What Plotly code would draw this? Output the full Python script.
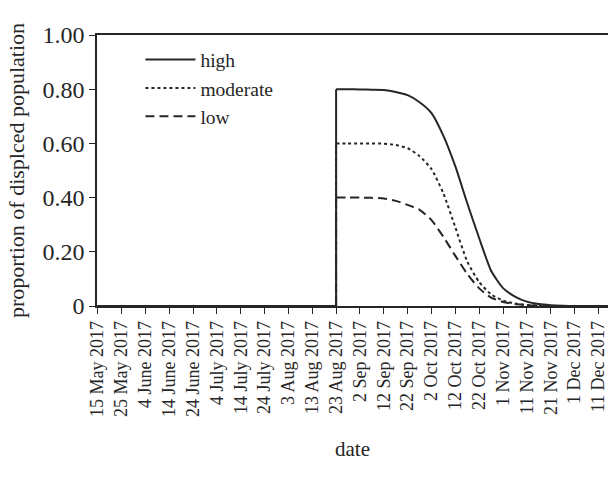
import plotly.graph_objects as go

# Shared dates (the step at 23 Aug is given by a repeated date)
dates = ["2017-05-15", "2017-08-23", "2017-08-23", "2017-08-28", "2017-09-02",
         "2017-09-07", "2017-09-12", "2017-09-17", "2017-09-22", "2017-09-27",
         "2017-10-02", "2017-10-07", "2017-10-12", "2017-10-17", "2017-10-22",
         "2017-10-27", "2017-11-01", "2017-11-06", "2017-11-11", "2017-11-16",
         "2017-11-21", "2017-11-26", "2017-12-01", "2017-12-06", "2017-12-11",
         "2017-12-15"]

high = [0, 0, 0.800, 0.800, 0.799, 0.798, 0.797, 0.790, 0.778, 0.752,
        0.712, 0.628, 0.515, 0.379, 0.250, 0.130, 0.066, 0.035, 0.016, 0.007,
        0.003, 0.001, 0, 0, 0, 0]
moderate = [0, 0, 0.600, 0.600, 0.600, 0.600, 0.599, 0.594, 0.582, 0.553,
            0.505, 0.415, 0.290, 0.164, 0.088, 0.043, 0.020, 0.009, 0.004, 0.001,
            0, 0, 0, 0, 0, 0]
low = [0, 0, 0.400, 0.400, 0.400, 0.399, 0.397, 0.388, 0.373, 0.355,
       0.317, 0.255, 0.185, 0.118, 0.065, 0.031, 0.015, 0.007, 0.003, 0.001,
       0, 0, 0, 0, 0, 0]

tick_dates = ["2017-05-15", "2017-05-25", "2017-06-04", "2017-06-14", "2017-06-24",
              "2017-07-04", "2017-07-14", "2017-07-24", "2017-08-03", "2017-08-13",
              "2017-08-23", "2017-09-02", "2017-09-12", "2017-09-22", "2017-10-02",
              "2017-10-12", "2017-10-22", "2017-11-01", "2017-11-11", "2017-11-21",
              "2017-12-01", "2017-12-11"]
tick_labels = ["15 May 2017", "25 May 2017", "4 June 2017", "14 June 2017", "24 June 2017",
               "4 July 2017", "14 July 2017", "24 July 2017", "3 Aug 2017", "13 Aug 2017",
               "23 Aug 2017", "2 Sep 2017", "12 Sep 2017", "22 Sep 2017", "2 Oct 2017",
               "12 Oct 2017", "22 Oct 2017", "1 Nov 2017", "11 Nov 2017", "21 Nov 2017",
               "1 Dec 2017", "11 Dec 2017"]

y_ticks = [0, 0.2, 0.4, 0.6, 0.8, 1.0]
y_labels = ["0", "0.20", "0.40", "0.60", "0.80", "1.00"]

ink = "#262626"
font = "Liberation Serif"

series = [("high", high, "solid"), ("moderate", moderate, "dot"), ("low", low, "9px,5px")]

fig = go.Figure()
for name, vals, dash in series:
    # baseline and the vertical step: straight segments
    fig.add_trace(go.Scatter(x=dates[:3], y=vals[:3], name=name, mode="lines",
                             legendgroup=name, showlegend=False,
                             line=dict(color=ink, width=2, dash=dash)))
    # plateau and decline: smooth curve
    fig.add_trace(go.Scatter(x=dates[2:], y=vals[2:], name=name, mode="lines",
                             legendgroup=name, showlegend=True,
                             line=dict(color=ink, width=2, dash=dash,
                                       shape="spline", smoothing=0.6)))

fig.update_layout(
    width=608, height=479, autosize=False,
    margin=dict(l=97, r=0, t=35, b=173, autoexpand=False),
    paper_bgcolor="white", plot_bgcolor="white",
    font=dict(family=font, color=ink, size=21),
    showlegend=True,
    legend=dict(x=0.085, y=0.98, xanchor="left", yanchor="top",
                bgcolor="rgba(0,0,0,0)", font=dict(size=19.5, family=font),
                itemwidth=50, tracegroupgap=0),
    xaxis=dict(
        type="date", automargin=False,
        range=["2017-05-14 18:00", "2017-12-15"],
        tickvals=tick_dates, ticktext=tick_labels,
        tickangle=-90, tickfont=dict(size=18, family=font),
        ticklabeloverflow="allow",
        ticks="outside", ticklen=6, tickcolor=ink, tickwidth=1.2,
        showline=True, linecolor=ink, linewidth=1.5, mirror=True,
        showgrid=False, zeroline=False,
        title=dict(text="date", font=dict(size=21, family=font), standoff=25),
    ),
    yaxis=dict(
        range=[0, 1], automargin=False,
        tickvals=y_ticks, ticktext=y_labels,
        tickfont=dict(size=24, family=font),
        ticks="outside", ticklen=6, tickcolor=ink, tickwidth=1.2,
        showline=True, linecolor=ink, linewidth=1.5,
        showgrid=False, zeroline=False,
        title=dict(text="proportion of displced population",
                   font=dict(size=22, family=font), standoff=12),
    ),
)

fig.write_html("out.html", config={"displayModeBar": False},
               post_script="document.body.style.margin='0';")
